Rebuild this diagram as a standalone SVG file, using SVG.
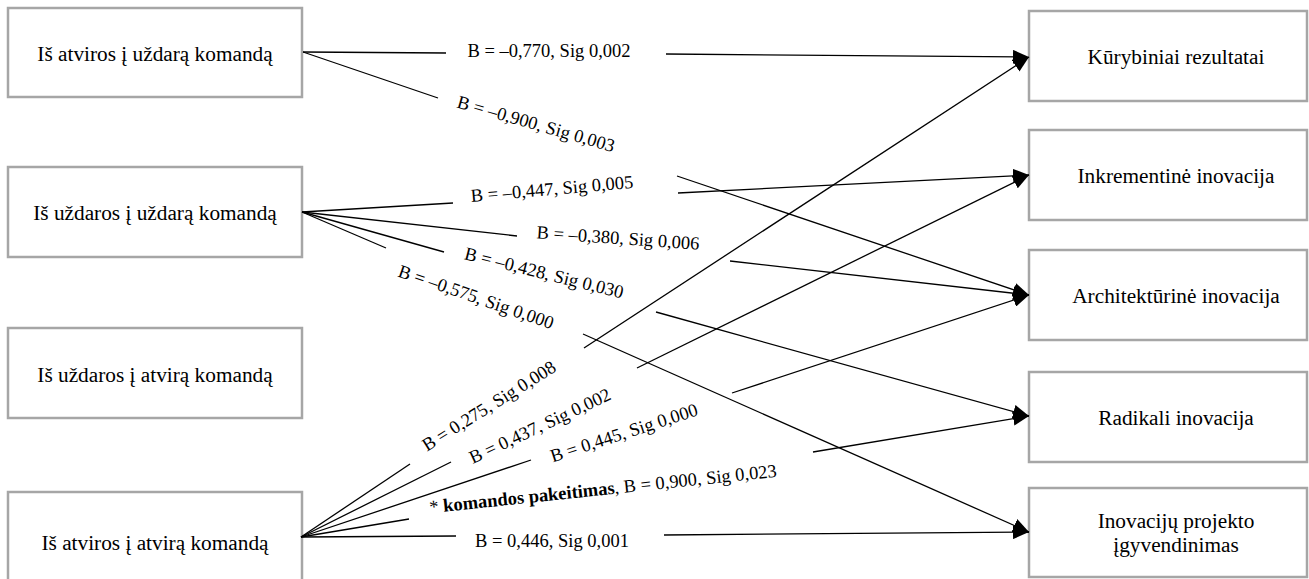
<svg xmlns="http://www.w3.org/2000/svg" width="1309" height="579" viewBox="0 0 1309 579">
<defs>
<style>
.box{fill:#ffffff;stroke:#a6a6a6;stroke-width:2.5}
.nt{font-family:"Liberation Serif",Tinos,"Noto Serif","Times New Roman",Times,"DejaVu Serif",serif;font-size:21.3px;fill:#000;text-anchor:middle}
.lb{font-family:"Liberation Serif",Tinos,"Noto Serif","Times New Roman",Times,"DejaVu Serif",serif;font-size:18.5px;fill:#000;text-anchor:middle}
.ln{stroke:#000;stroke-width:1.3;fill:none}
.ar{stroke:#000;stroke-width:1.3;fill:none;marker-end:url(#ah)}
</style>
<marker id="ah" markerUnits="userSpaceOnUse" markerWidth="16" markerHeight="14" refX="16" refY="7" orient="auto">
<path d="M0,0 L16,7 L0,14 z" fill="#000"/>
</marker>
</defs>
<rect width="1309" height="579" fill="#ffffff"/>

<g id="src1"><rect class="box" x="8" y="8" width="294" height="89"/><text class="nt" x="155" y="61" font-family="Liberation Serif">Iš atviros į uždarą komandą</text></g>
<g id="src2"><rect class="box" x="8" y="167" width="294" height="90"/><text class="nt" x="155" y="220">Iš uždaros į uždarą komandą</text></g>
<g id="src3"><rect class="box" x="8" y="328" width="294" height="90"/><text class="nt" x="155" y="382">Iš uždaros į atvirą komandą</text></g>
<g id="src4"><rect class="box" x="8" y="492" width="294" height="98"/><text class="nt" x="155" y="550">Iš atviros į atvirą komandą</text></g>

<g id="tgt1"><rect class="box" x="1029" y="11" width="278" height="90"/><text class="nt" x="1176" y="64">Kūrybiniai rezultatai</text></g>
<g id="tgt2"><rect class="box" x="1029" y="130" width="278" height="90"/><text class="nt" x="1176" y="183">Inkrementinė inovacija</text></g>
<g id="tgt3"><rect class="box" x="1029" y="250" width="278" height="90"/><text class="nt" x="1176" y="303">Architektūrinė inovacija</text></g>
<g id="tgt4"><rect class="box" x="1029" y="372" width="278" height="90"/><text class="nt" x="1176" y="425">Radikali inovacija</text></g>
<g id="tgt5"><rect class="box" x="1029" y="488" width="278" height="89"/><text class="nt" x="1176" y="528">Inovacijų projekto</text><text class="nt" x="1176" y="552">įgyvendinimas</text></g>

<g id="connectors">
<line class="ln" x1="303" y1="52" x2="446" y2="53"/>
<line class="ar" x1="666" y1="54" x2="1029" y2="57"/>
<line class="ln" x1="303" y1="52" x2="438" y2="98"/>
<line class="ar" x1="677" y1="176" x2="1029" y2="295"/>
<line class="ln" x1="302" y1="212" x2="453" y2="203"/>
<line class="ar" x1="678" y1="193" x2="1029" y2="175"/>
<line class="ln" x1="302" y1="212" x2="517" y2="236"/>
<line class="ar" x1="730" y1="261" x2="1029" y2="295"/>
<line class="ln" x1="302" y1="212" x2="444" y2="252"/>
<line class="ar" x1="656" y1="312" x2="1029" y2="416"/>
<line class="ln" x1="302" y1="212" x2="386" y2="248"/>
<line class="ar" x1="583" y1="334" x2="1029" y2="532"/>
<line class="ln" x1="301" y1="537" x2="410" y2="464"/>
<line class="ar" x1="584" y1="348" x2="1029" y2="57"/>
<line class="ln" x1="301" y1="537" x2="451" y2="462"/>
<line class="ar" x1="637" y1="368" x2="1029" y2="175"/>
<line class="ln" x1="301" y1="537" x2="531" y2="460"/>
<line class="ar" x1="732" y1="393" x2="1029" y2="295"/>
<line class="ln" x1="301" y1="537" x2="409" y2="519"/>
<line class="ar" x1="813" y1="452" x2="1029" y2="416"/>
<line class="ln" x1="301" y1="537" x2="456" y2="536"/>
<line class="ar" x1="664" y1="535" x2="1029" y2="532"/>
</g>

<g id="labels">
<text class="lb" transform="translate(549,51)" y="6">B = –0,770, Sig 0,002</text>
<text class="lb" transform="translate(536,124) rotate(16)" y="6">B = –0,900, Sig 0,003</text>
<text class="lb" transform="translate(552,189) rotate(-5)" y="6">B = –0,447, Sig 0,005</text>
<text class="lb" transform="translate(618,238) rotate(4)" y="6">B = –0,380, Sig 0,006</text>
<text class="lb" transform="translate(544,273) rotate(14)" y="6">B = –0,428, Sig 0,030</text>
<text class="lb" transform="translate(476,297) rotate(19)" y="6">B = –0,575, Sig 0,000</text>
<text class="lb" transform="translate(489,406) rotate(-32)" y="6">B = 0,275, Sig 0,008</text>
<text class="lb" transform="translate(540,426) rotate(-25)" y="6">B = 0,437, Sig 0,002</text>
<text class="lb" transform="translate(624,433) rotate(-18)" y="6">B = 0,445, Sig 0,000</text>
<text class="lb" transform="translate(603,489) rotate(-6)" y="6">* <tspan font-weight="bold">komandos pakeitimas</tspan>, B = 0,900, Sig 0,023</text>
<text class="lb" transform="translate(552,541)" y="6">B = 0,446, Sig 0,001</text>
</g>
</svg>
